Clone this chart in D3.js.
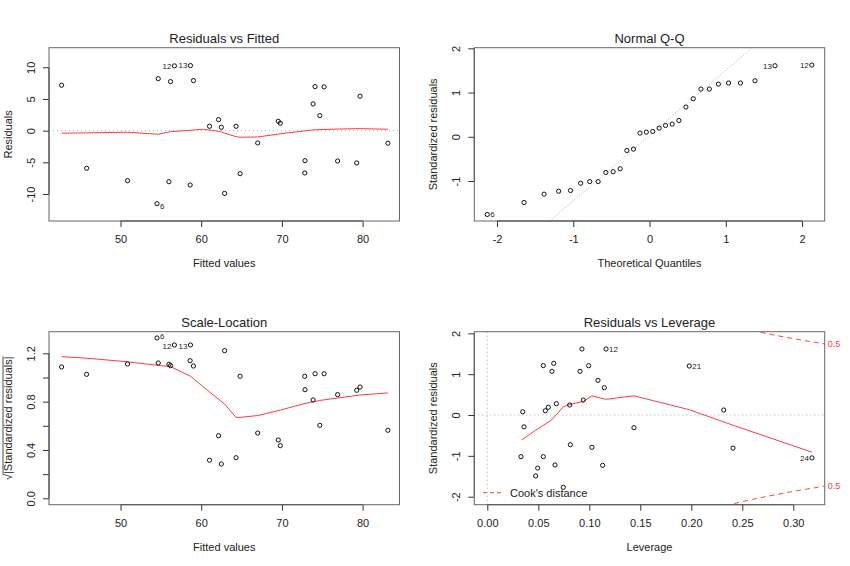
<!DOCTYPE html>
<html><head><meta charset="utf-8">
<script src="https://cdn.jsdelivr.net/npm/d3@7"></script>
<style>
body{margin:0;background:#fff}
svg text{font-family:"Liberation Sans",Arial,Helvetica,sans-serif;fill:#222}
</style>
</head><body>
<svg id="c" width="850" height="566"></svg>
<script>
// ---------- data ----------
const fitted = [42.7,45.8,50.87,54.52,54.68,56.0,56.2,56.68,58.63,58.67,59.04,61.03,62.15,62.49,62.9,64.32,64.82,67.0,69.55,69.8,72.83,72.86,73.86,74.11,74.7,75.23,76.9,79.27,79.68,83.13];
const residuals = [7.17,-5.94,-7.9,-11.53,8.2,-8.06,7.74,10.22,-8.58,10.27,7.9,0.69,1.74,0.53,-9.9,0.69,-6.79,-1.94,1.48,1.17,-6.68,-4.74,4.22,6.95,2.37,6.9,-4.79,-5.1,5.43,-1.99];
const fittedIds = ["","","","6","","","","12","","13","","","","","","","","","","","","","","","","","","","",""];
const fittedIdPos = ["","","","R","","","","L","","L","","","","","","","","","","","","","","","","","","","",""];
const residSmooth = [[42.7,-0.41],[50.87,-0.25],[54.68,-0.57],[56.2,-0.16],[59.04,0.1],[60.3,0.22],[62.15,-0.1],[62.49,-0.2],[62.9,-0.4],[64.32,-0.95],[64.82,-1.04],[67.0,-1.0],[69.8,-0.5],[73.86,0.12],[76.9,0.25],[79.68,0.32],[83.13,0.22]];

const theoQuantiles = [-2.128,-1.645,-1.383,-1.192,-1.036,-0.903,-0.784,-0.674,-0.573,-0.477,-0.385,-0.297,-0.210,-0.126,-0.042,0.042,0.126,0.210,0.297,0.385,0.477,0.573,0.674,0.784,0.903,1.036,1.192,1.383,1.645,2.128];
const qqSample = [-1.757,-1.486,-1.297,-1.23,-1.215,-1.05,-1.013,-1.013,-0.807,-0.79,-0.724,-0.31,-0.279,0.083,0.105,0.12,0.196,0.256,0.286,0.369,0.672,0.86,1.079,1.079,1.19,1.215,1.215,1.267,1.606,1.622];
const qqIds = ["6","","","","","","","","","","","","","","","","","","","","","","","","","","","","13","12"];
const qqIdPos = ["R","","","","","","","","","","","","","","","","","","","","","","","","","","","","L","L"];
const qqLine = {intercept:0.028, slope:1.475};

const sqrtStdResid = [1.087,1.026,1.112,1.327,1.12,1.109,1.098,1.269,1.139,1.269,1.095,0.315,0.518,0.284,1.222,0.336,1.01,0.54,0.483,0.436,1.01,0.899,0.814,1.031,0.604,1.031,0.858,0.894,0.921,0.563];
const scaleSmooth = [[42.7,1.172],[45.8,1.16],[50.87,1.13],[54.68,1.10],[56.2,1.09],[58.67,1.01],[61.03,0.88],[62.9,0.78],[64.32,0.67],[64.82,0.67],[67.0,0.685],[69.8,0.73],[72.86,0.785],[74.7,0.81],[76.9,0.83],[79.68,0.855],[83.13,0.872]];

const leverage = [0.0347,0.036,0.033,0.0494,0.0474,0.0549,0.0549,0.0569,0.0598,0.0634,0.0651,0.0664,0.0677,0.0745,0.0808,0.0814,0.0909,0.0928,0.0941,0.0994,0.1026,0.1085,0.1131,0.1147,0.1164,0.1438,0.198,0.2318,0.2409,0.3183];
const levStdResid = [0.08,-0.29,-1.02,-1.30,-1.49,-1.02,1.21,0.105,0.19,1.07,1.265,-1.224,0.277,-1.77,0.245,-0.727,1.07,1.616,0.367,1.207,-0.79,0.849,-1.232,0.668,1.616,-0.31,1.2,0.122,-0.81,-1.05];
const levIds = ["","","","","","","","","","","","","","","","","","","","","","","","","12","","21","","","24"];
const levIdPos = ["","","","","","","","","","","","","","","","","","","","","","","","","R","","R","","","L"];
const levSmooth = [[0.0337,-0.61],[0.047,-0.38],[0.0631,-0.12],[0.0745,0.2],[0.081,0.26],[0.094,0.33],[0.1026,0.47],[0.116,0.385],[0.1438,0.47],[0.198,0.13],[0.2409,-0.25],[0.3183,-0.91]];
const cookLevels = [0.5];
const nParams = 3;

const titles = ["Residuals vs Fitted","Normal Q-Q","Scale-Location","Residuals vs Leverage"];

// ---------- drawing ----------
const svg = d3.select('#c');
const RED = '#ff3b3b';
const plain = d => String(d);
let clipN = 0;

function panel(o){
  const x = d3.scaleLinear().domain(o.xDomain).range([o.left,o.right]);
  const y = d3.scaleLinear().domain(o.yDomain).range([o.bottom,o.top]);
  const g = svg.append('g');
  const id = 'clip'+(clipN++);
  g.append('clipPath').attr('id',id).append('rect')
    .attr('x',o.left).attr('y',o.top).attr('width',o.right-o.left).attr('height',o.bottom-o.top);
  const inner = g.append('g').attr('clip-path',`url(#${id})`);

  const xa = g.append('g').attr('transform',`translate(0,${o.bottom})`)
    .call(d3.axisBottom(x).tickValues(o.xTicks).tickFormat(o.xFmt||plain).tickSize(6).tickSizeOuter(0));
  xa.select('.domain').remove();
  xa.selectAll('line').attr('stroke','#333');
  xa.selectAll('text').attr('y',22).attr('dy',null).attr('font-size',11).attr('fill','#333');
  xa.append('line').attr('x1',x(o.xTicks[0])).attr('x2',x(o.xTicks[o.xTicks.length-1])).attr('stroke','#222');
  const ya = g.append('g').attr('transform',`translate(${o.left},0)`)
    .call(d3.axisLeft(y).tickValues(o.yTicks).tickFormat(o.yFmt||plain).tickSize(6).tickSizeOuter(0));
  ya.select('.domain').remove();
  ya.selectAll('line').attr('stroke','#333');
  ya.selectAll('text').attr('x',null).attr('dy',null).attr('text-anchor','middle')
    .attr('transform','translate(-14.5,0) rotate(-90)').attr('font-size',11).attr('fill','#333');
  ya.append('line').attr('y1',y(o.yTicks[0])).attr('y2',y(o.yTicks[o.yTicks.length-1])).attr('stroke','#222');
  ya.attr('font-family',null); xa.attr('font-family',null);

  g.append('rect').attr('x',o.left).attr('y',o.top).attr('width',o.right-o.left).attr('height',o.bottom-o.top)
    .attr('fill','none').attr('stroke','#666').attr('stroke-width',1);

  const cx = (o.left+o.right)/2;
  g.append('text').attr('x',cx).attr('y',o.top-5).attr('text-anchor','middle').attr('font-size',13).text(o.title);
  g.append('text').attr('x',cx).attr('y',o.bottom+46).attr('text-anchor','middle').attr('font-size',11).attr('fill','#333').text(o.xlab);
  const yg = g.append('g').attr('transform',`translate(${o.left-o.ylabOff},${(o.top+o.bottom)/2}) rotate(-90)`);
  const yl = yg.append('text').attr('text-anchor','middle').attr('font-size',11);
  if(o.ylabSqrt){
    yl.text('√|Standardized residuals|');
    const node = yl.node();
    const bb = node.getBBox();
    const sw = node.getSubStringLength(0,1);
    yg.append('line').attr('x1',bb.x+sw-0.5).attr('x2',bb.x+bb.width).attr('y1',bb.y+1).attr('y2',bb.y+1)
      .attr('stroke','#222').attr('stroke-width',0.8);
  } else yl.text(o.ylab);
  return {x,y,g,inner};
}

function points(p, xs, ys){
  p.g.selectAll(null).data(xs).enter().append('circle')
    .attr('cx',d=>p.x(d)).attr('cy',(d,i)=>p.y(ys[i])).attr('r',2.1)
    .attr('fill','none').attr('stroke','#111').attr('stroke-width',1);
}
function labels(p, xs, ys, ids, pos, shift){
  shift = shift || {};
  ids.forEach((t,i)=>{
    if(!t) return;
    const left = pos[i]==='L';
    p.g.append('text').attr('x',p.x(xs[i])+(left?-3:3)).attr('y',p.y(ys[i])+(shift[t]||0)).attr('dy','0.36em')
      .attr('text-anchor',left?'end':'start').attr('font-size',8).attr('fill','#333').text(t);
  });
}
function smooth(p, pts){
  p.inner.append('path').datum(pts).attr('d',d3.line().x(d=>p.x(d[0])).y(d=>p.y(d[1])))
    .attr('fill','none').attr('stroke',RED).attr('stroke-width',1);
}
function hdotted(p, v){
  p.inner.append('line').attr('x1',p.x.range()[0]).attr('x2',p.x.range()[1]).attr('y1',p.y(v)).attr('y2',p.y(v))
    .attr('stroke','#aaa').attr('stroke-dasharray','1,3');
}

// Panel 1
const p1 = panel({left:49,right:399.5,top:47.7,bottom:221,xDomain:[41.14,84.57],yDomain:[-14.26,13.09],
  xTicks:[50,60,70,80],yTicks:[-10,-5,0,5,10],title:titles[0],xlab:'Fitted values',ylab:'Residuals',ylabOff:37});
hdotted(p1,0);
smooth(p1,residSmooth);
points(p1,fitted,residuals);
labels(p1,fitted,residuals,fittedIds,fittedIdPos,{"6":2});

// Panel 2
const p2 = panel({left:474.3,right:824.7,top:47.7,bottom:221,xDomain:[-2.298,2.297],yDomain:[-1.904,2.014],
  xTicks:[-2,-1,0,1,2],yTicks:[-1,0,1,2],title:titles[1],xlab:'Theoretical Quantiles',ylab:'Standardized residuals',ylabOff:37});
p2.inner.append('line').attr('x1',p2.x(-2.298)).attr('x2',p2.x(2.297))
  .attr('y1',p2.y(qqLine.intercept+qqLine.slope*-2.298)).attr('y2',p2.y(qqLine.intercept+qqLine.slope*2.297))
  .attr('stroke','#aaa').attr('stroke-dasharray','1,2');
points(p2,theoQuantiles,qqSample);
labels(p2,theoQuantiles,qqSample,qqIds,qqIdPos);

// Panel 3
const p3 = panel({left:49,right:399.5,top:331.7,bottom:504.7,xDomain:[41.14,84.57],yDomain:[-0.053,1.379],
  xTicks:[50,60,70,80],yTicks:[0,0.2,0.4,0.6,0.8,1.0,1.2],
  yFmt:d=>([0,0.4,0.8,1.2].some(v=>Math.abs(v-d)<1e-9)?d.toFixed(1):''),
  title:titles[2],xlab:'Fitted values',ylabSqrt:true,ylabOff:37});
smooth(p3,scaleSmooth);
points(p3,fitted,sqrtStdResid);
labels(p3,fitted,sqrtStdResid,fittedIds,fittedIdPos,{"6":-2,"12":1.5,"13":1.5});

// Panel 4
const p4 = panel({left:474.3,right:824.7,top:331.7,bottom:504.7,xDomain:[-0.01275,0.3308],yDomain:[-2.196,2.04],
  xTicks:[0,0.05,0.10,0.15,0.20,0.25,0.30],xFmt:d3.format('.2f'),yTicks:[-2,-1,0,1,2],
  title:titles[3],xlab:'Leverage',ylab:'Standardized residuals',ylabOff:37});
hdotted(p4,0);
p4.inner.append('line').attr('x1',p4.x(0)).attr('x2',p4.x(0)).attr('y1',p4.y.range()[0]).attr('y2',p4.y.range()[1])
  .attr('stroke','#aaa').attr('stroke-dasharray','1,3');
smooth(p4,levSmooth);
points(p4,leverage,levStdResid);
labels(p4,leverage,levStdResid,levIds,levIdPos);
const hGrid = d3.range(0.15,0.3309,0.002).concat([0.3308]);
cookLevels.forEach(c=>{
  [1,-1].forEach(s=>{
    const pts = hGrid.map(h=>[h, s*Math.sqrt(c*nParams*(1-h)/h)]);
    p4.inner.append('path').datum(pts).attr('d',d3.line().x(d=>p4.x(d[0])).y(d=>p4.y(d[1])))
      .attr('fill','none').attr('stroke',RED).attr('stroke-width',1).attr('stroke-dasharray','5,4');
    const hx = 0.3308;
    p4.g.append('text').attr('x',p4.x(hx)+3).attr('y',p4.y(s*Math.sqrt(c*nParams*(1-hx)/hx))).attr('dy','0.35em')
      .attr('font-size',9).style('fill',RED).text(String(c));
  });
});
p4.g.append('line').attr('x1',483).attr('x2',501).attr('y1',492.7).attr('y2',492.7)
  .attr('stroke',RED).attr('stroke-dasharray','4,3');
p4.g.append('text').attr('x',510).attr('y',492.7).attr('dy','0.36em').attr('font-size',11).attr('fill','#333').text("Cook's distance");
</script>
</body></html>
